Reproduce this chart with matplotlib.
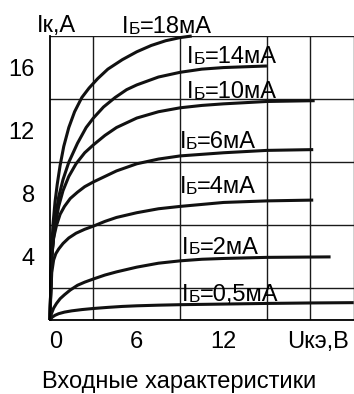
import numpy as np
import matplotlib
matplotlib.use('Agg')
import matplotlib.pyplot as plt
from matplotlib.transforms import ScaledTranslation

plt.rcParams['font.family'] = ['Liberation Sans', 'DejaVu Sans']

# Output characteristics, collector current (A) vs collector-emitter voltage (V)
base_currents = ['18', '14', '10', '6', '4', '2', '0,5']

u_18 = [0, 0.05, 0.1, 0.2, 0.35, 0.5, 0.7, 0.95, 1.3, 1.7, 2.2, 2.7, 3.3, 4.0, 5.0, 6.0, 7.0, 8.0, 9.0, 9.8]
i_18 = [0, 2.0, 4.0, 6.0, 7.5, 8.6, 9.8, 11.0, 12.2, 13.2, 14.1, 14.7, 15.3, 15.9, 16.5, 17.0, 17.4, 17.7, 17.9, 18.0]

u_14 = [0, 0.05, 0.12, 0.25, 0.4, 0.6, 0.9, 1.3, 1.9, 2.5, 3.0, 3.7, 4.5, 5.3, 6.0, 7.5, 9.0, 10.5, 12.0, 13.5, 15.0]
i_14 = [0, 2.0, 4.0, 5.5, 6.6, 7.8, 8.9, 10.0, 11.2, 12.2, 12.8, 13.5, 14.1, 14.6, 14.9, 15.4, 15.7, 15.9, 16.0, 16.05, 16.1]

u_10 = [0, 0.05, 0.12, 0.25, 0.4, 0.6, 0.9, 1.3, 1.8, 2.4, 3.0, 3.8, 4.6, 6.0, 7.5, 9.0, 10.5, 12.0, 15.0, 18.3]
i_10 = [0, 2.0, 4.0, 5.2, 6.2, 7.2, 8.2, 9.1, 9.9, 10.6, 11.1, 11.7, 12.2, 12.8, 13.2, 13.45, 13.6, 13.7, 13.85, 13.9]

u_6 = [0, 0.05, 0.12, 0.25, 0.45, 0.7, 1.0, 1.4, 1.9, 2.4, 3.0, 3.8, 4.6, 6.0, 7.5, 9.0, 12.0, 15.0, 18.2]
i_6 = [0, 2.0, 4.0, 5.2, 6.0, 6.7, 7.2, 7.7, 8.1, 8.45, 8.75, 9.1, 9.45, 9.9, 10.2, 10.4, 10.6, 10.75, 10.8]

u_4 = [0, 0.05, 0.12, 0.25, 0.4, 0.6, 0.9, 1.3, 1.8, 2.4, 3.0, 3.8, 4.6, 6.0, 7.5, 9.0, 12.0, 15.0, 18.2]
i_4 = [0, 1.5, 3.0, 3.8, 4.2, 4.5, 4.85, 5.2, 5.5, 5.75, 5.95, 6.25, 6.5, 6.8, 7.05, 7.2, 7.45, 7.55, 7.6]

u_2 = [0, 0.1, 0.25, 0.45, 0.7, 1.0, 1.4, 1.9, 2.4, 3.0, 3.8, 4.6, 6.0, 7.5, 9.0, 10.5, 12.0, 15.0, 19.4]
i_2 = [0, 0.4, 0.75, 1.05, 1.35, 1.6, 1.9, 2.2, 2.4, 2.6, 2.85, 3.05, 3.35, 3.6, 3.75, 3.85, 3.9, 3.97, 4.0]

u_05 = [0, 0.15, 0.35, 0.6, 1.0, 1.5, 2.2, 3.0, 4.0, 5.0, 6.0, 7.5, 9.0, 12.0, 15.0, 18.0, 21.0]
i_05 = [0, 0.18, 0.3, 0.4, 0.5, 0.58, 0.66, 0.73, 0.8, 0.86, 0.9, 0.94, 0.97, 1.01, 1.05, 1.08, 1.1]

curves = [(u_18, i_18), (u_14, i_14), (u_10, i_10), (u_6, i_6),
          (u_4, i_4), (u_2, i_2), (u_05, i_05)]

# where each I_b caption starts (V) and its baseline (A)
label_u = [5.0, 9.45, 9.45, 8.95, 8.95, 9.15, 9.15]
label_i = [18.2, 16.3, 14.05, 10.9, 8.05, 4.2, 1.2]

x_ticks = [0, 6, 12]
y_ticks = [4, 8, 12, 16]

FS = 17
FS_SMALL = FS * 0.74
# bboxes include the font descent, so a smaller glyph sits lower by this much
DROP = 0.212 * (FS - FS_SMALL)

fig = plt.figure(figsize=(3.54, 3.94), dpi=100)
ax = fig.add_axes([50 / 354, 1 - 320 / 394, 1 - 50 / 354, 284 / 394])

ax.set_xlim(0, 21.02)
ax.set_ylim(0, 18)
ax.set_xticks(np.arange(0, 22, 3), minor=True)
ax.set_yticks(np.arange(0, 19, 2), minor=True)
ax.set_xticks(x_ticks)
ax.set_yticks(y_ticks)
ax.grid(True, which='minor', color='#1a1a1a', linewidth=1.0)
ax.tick_params(which='both', length=0)
ax.tick_params(axis='x', pad=8, labelsize=FS)
ax.tick_params(axis='y', pad=11, labelsize=FS)
for side in ['top', 'right']:
    ax.spines[side].set_visible(False)
for side in ['left', 'bottom']:
    ax.spines[side].set_linewidth(1.3)

# nudge the "0" label off the corner
lbl0 = ax.get_xticklabels()[0]
lbl0.set_transform(lbl0.get_transform() + ScaledTranslation(6 / 100, 0, fig.dpi_scale_trans))

for u, i in curves:
    ax.plot(u, i, color='#111111', linewidth=2.2, solid_capstyle='butt',
            solid_joinstyle='round', clip_on=False)

# captions I_Б=..мА with a small-capital Б on the baseline
for val, x, y in zip(base_currents, label_u, label_i):
    t = ax.text(x, y, 'I', fontsize=FS, va='baseline', clip_on=False)
    t = ax.annotate('Б', xycoords=t, xy=(1, 0), va='bottom', fontsize=FS_SMALL,
                    xytext=(0, DROP), textcoords='offset points',
                    annotation_clip=False)
    ax.annotate('=' + val + 'мА', xycoords=t, xy=(1, 0), va='bottom', fontsize=FS,
                xytext=(0, -DROP), textcoords='offset points',
                annotation_clip=False)

ax.text(-0.9, 18.25, 'Iк,А', fontsize=FS, va='baseline', clip_on=False)
ax.text(16.4, -1.77, 'Uкэ,В', fontsize=FS, va='baseline', clip_on=False)

fig.text(179 / 354, 1 - 388 / 394, 'Входные характеристики', fontsize=FS,
         ha='center', va='baseline')

fig.savefig('out.png', dpi=100)
